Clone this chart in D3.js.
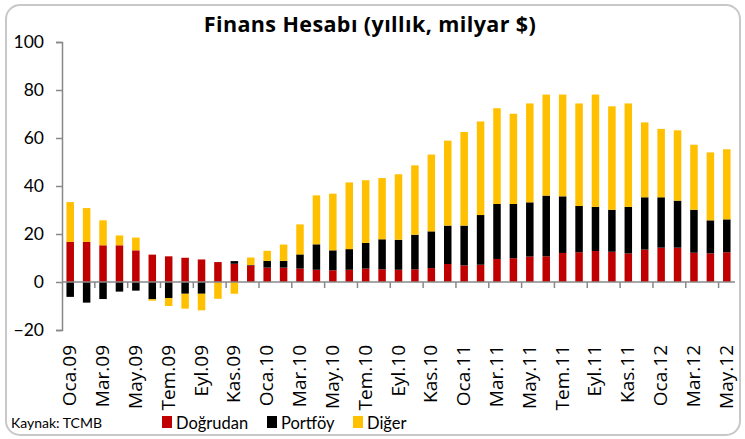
<!DOCTYPE html>
<html>
<head>
<meta charset="utf-8">
<script src="https://cdn.jsdelivr.net/npm/d3@7"></script>
<style>
  body { margin: 0; background: #fff; }
  text { font-family: Lato, "Open Sans", sans-serif; fill: #000; }
</style>
</head>
<body>
<div id="chart"></div>
<script>
// months Oca.09 .. May.12
var months = ["Oca.09","Şub.09","Mar.09","Nis.09","May.09","Haz.09","Tem.09","Ağu.09","Eyl.09","Eki.09","Kas.09","Ara.09",
  "Oca.10","Şub.10","Mar.10","Nis.10","May.10","Haz.10","Tem.10","Ağu.10","Eyl.10","Eki.10","Kas.10","Ara.10",
  "Oca.11","Şub.11","Mar.11","Nis.11","May.11","Haz.11","Tem.11","Ağu.11","Eyl.11","Eki.11","Kas.11","Ara.11",
  "Oca.12","Şub.12","Mar.12","Nis.12","May.12"];

var dogrudan = [16.7,16.7,15.3,15.3,13.2,11.4,10.7,10.1,9.4,8.3,7.6,6.9,
  6.0,6.0,5.6,5.1,4.9,5.1,5.6,5.3,5.1,5.3,5.8,7.5,
  6.9,7.2,9.6,9.9,10.6,10.7,12.1,12.4,12.9,12.6,11.9,13.5,
  14.3,14.3,12.2,11.9,12.4];

var portfoy = [-6.2,-8.6,-7.1,-4.0,-3.6,-7.2,-6.7,-4.9,-4.9,-0.1,1.1,0.2,
  2.8,2.8,5.9,10.6,8.3,8.6,10.7,12.5,12.5,14.4,15.3,16.0,
  16.6,20.7,22.9,22.6,22.6,25.3,23.6,19.3,18.4,17.5,19.4,21.8,
  21.0,19.6,17.9,13.8,13.7];

var diger = [16.6,14.1,10.4,4.1,5.3,-0.6,-3.3,-6.2,-6.9,-6.9,-4.9,3.1,
  4.2,6.8,12.5,20.4,23.6,27.8,26.1,25.5,27.3,28.9,32.0,35.4,
  39.0,39.0,39.9,37.6,41.2,42.1,42.4,42.7,46.8,43.1,43.1,31.2,
  28.5,29.3,27.1,28.3,29.2];

var seriesNames = ["Doğrudan","Portföy","Diğer"];
var seriesColors = ["#C00000","#000000","#FFC000"];
var yTicks = [-20,0,20,40,60,80,100];

var svgWidth = 745, svgHeight = 439;
var margin = { top: 42, right: 10, bottom: 109, left: 62 };
var width = 735 - margin.left;
var height = 330 - margin.top;

var svg = d3.select("#chart").append("svg")
  .attr("width", svgWidth)
  .attr("height", svgHeight);

// outer frame
svg.append("rect")
  .attr("x", 6).attr("y", 5)
  .attr("width", 734).attr("height", 430)
  .attr("rx", 14)
  .attr("fill", "#fff")
  .attr("stroke", "#c8c8c8")
  .attr("stroke-width", 2);

svg.append("text")
  .attr("x", 370).attr("y", 32)
  .attr("text-anchor", "middle")
  .style("font-family", "'Open Sans', sans-serif")
  .style("font-weight", "bold")
  .style("font-size", "21.5px")
  .style("letter-spacing", "0.4px")
  .text("Finans Hesabı (yıllık, milyar $)");

var chartGroup = svg.append("g")
  .attr("transform", `translate(${margin.left}, ${margin.top})`);

var x = d3.scaleBand().domain(months).range([0, width]);
var y = d3.scaleLinear().domain([-20, 100]).range([height, 0]);

var rows = months.map(function(m, i) {
  return { month: m, d: dogrudan[i], p: portfoy[i], o: diger[i] };
});

// stack positives up and negatives down, like Excel
var stack = d3.stack()
  .keys(["d","p","o"])
  .offset(d3.stackOffsetDiverging);
var layers = stack(rows);

var barW = 7.5;
chartGroup.selectAll("g.layer")
  .data(layers)
  .enter()
  .append("g")
  .attr("class", "layer")
  .attr("fill", (d, i) => seriesColors[i])
  .selectAll("rect")
  .data(d => d)
  .enter()
  .append("rect")
  .attr("x", d => x(d.data.month) + x.bandwidth() / 2 - barW / 2)
  .attr("width", barW)
  .attr("y", d => y(Math.max(d[0], d[1])))
  .attr("height", d => Math.abs(y(d[0]) - y(d[1])));

// y axis
var leftAxis = d3.axisLeft(y).tickValues(yTicks).tickSize(6).tickPadding(12);
var yAxis = chartGroup.append("g").call(leftAxis);
yAxis.select(".domain").attr("stroke", "#888").attr("stroke-width", 1.5);
yAxis.selectAll(".tick line").attr("stroke", "#888").attr("stroke-width", 1.5);
yAxis.selectAll(".tick text")
  .style("font-family", "Lato, sans-serif")
  .style("font-size", "17.5px")
  .attr("fill", "#000");

// zero line with ticks every two months
chartGroup.append("line")
  .attr("x1", 0).attr("x2", width)
  .attr("y1", y(0)).attr("y2", y(0))
  .attr("stroke", "#888").attr("stroke-width", 1.5);

var tickIdx = d3.range(2, months.length, 2);
chartGroup.selectAll("line.xtick")
  .data(tickIdx)
  .enter()
  .append("line")
  .attr("class", "xtick")
  .attr("x1", i => x(months[i])).attr("x2", i => x(months[i]))
  .attr("y1", y(0)).attr("y2", y(0) + 6)
  .attr("stroke", "#888").attr("stroke-width", 1.5);

// x labels (every other month), rotated
var labelled = months.filter((m, i) => i % 2 === 0);
chartGroup.selectAll("text.xlab")
  .data(labelled)
  .enter()
  .append("text")
  .attr("class", "xlab")
  .attr("transform", d => `translate(${x(d) + x.bandwidth() / 2 + 6}, ${height + 15}) rotate(-90)`)
  .attr("text-anchor", "end")
  .style("font-family", "'Open Sans', sans-serif")
  .style("font-size", "19px")
  .text(d => d);

// source
svg.append("text")
  .attr("x", 11).attr("y", 428)
  .style("font-size", "14px")
  .text("Kaynak: TCMB");

// legend
var legendX = [162, 267, 353];
var legend = svg.selectAll("g.legend")
  .data(seriesNames)
  .enter()
  .append("g")
  .attr("class", "legend")
  .attr("transform", (d, i) => `translate(${legendX[i]}, 416)`);
legend.append("rect")
  .attr("width", 10).attr("height", 12)
  .attr("fill", (d, i) => seriesColors[i]);
legend.append("text")
  .attr("x", 14).attr("y", 13)
  .style("font-size", "16.5px")
  .text(d => d);
</script>
</body>
</html>
